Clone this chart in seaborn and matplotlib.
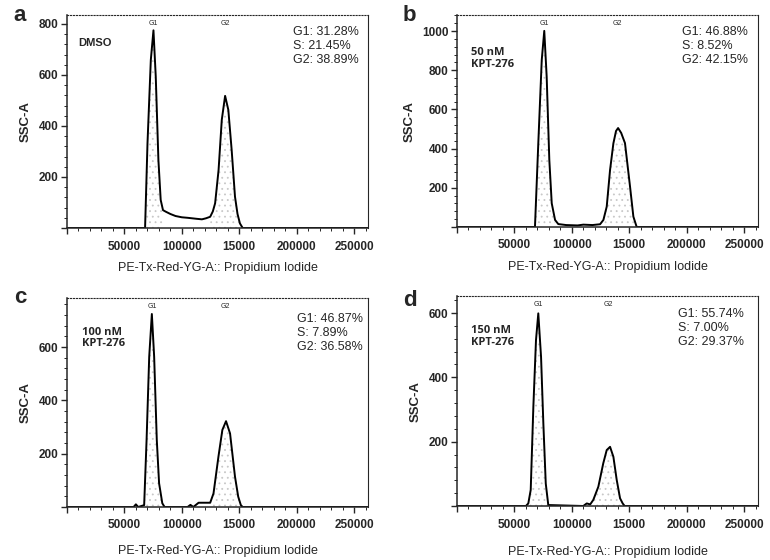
import numpy as np
import pandas as pd
import seaborn as sns
import matplotlib.pyplot as plt
from matplotlib.ticker import MultipleLocator, FixedLocator, FixedFormatter
import matplotlib.transforms as mtransforms

# values (PI intensity, count)
a_x = [0, 60000, 68000, 70100, 73000, 75300, 77300, 79600, 81600, 83600, 86000, 90000, 94500, 100000,
       105000, 109000, 113000, 117500, 121000, 124700, 127000, 129000, 132000, 134800, 137700, 140500,
       143400, 146300, 148500, 150600, 153000, 262144]
a_y = [0, 0, 0, 332, 659, 775, 593, 267, 110, 70, 64, 55, 47, 42, 40, 38, 36, 34, 38, 44, 65, 97, 227,
       424, 518, 463, 306, 123, 55, 18, 0, 0]

b_x = [0, 67900, 70800, 73800, 76000, 78100, 80400, 82500, 85400, 88200, 95000, 105000, 110000, 118000,
       124600, 127500, 130400, 133300, 136200, 138500, 140300, 143000, 146300, 150700, 153600, 156500, 262144]
b_y = [0, 0, 427, 852, 1001, 767, 342, 121, 36, 15, 10, 8, 12, 10, 14, 36, 104, 291, 427, 490, 505, 480,
       428, 206, 53, 0, 0]

c_x = [0, 58000, 60000, 62000, 67200, 69300, 71600, 73900, 75900, 78200, 80200, 83000, 85000, 105000,
       107500, 110000, 114600, 124700, 127600, 131900, 135300, 138500, 142000, 146300, 149100, 151400,
       153000, 262144]
c_y = [0, 0, 10, 0, 7, 251, 564, 724, 564, 251, 89, 14, 0, 0, 8, 0, 16, 16, 51, 189, 289, 322, 276, 114,
       39, 7, 0, 0]

d_x = [0, 60000, 62100, 64200, 66500, 68800, 70800, 73200, 75200, 77300, 79500, 110000, 113000, 116000,
       118700, 123100, 127400, 130400, 133300, 136200, 139100, 142000, 144300, 146000, 262144]
d_y = [0, 0, 8, 50, 309, 516, 599, 464, 257, 70, 3, 0, 8, 5, 19, 60, 133, 174, 184, 153, 81, 24, 8, 0, 0]

panel_letters = ['a', 'b', 'c', 'd']
treatments = ['DMSO', '50 nM\nKPT-276', '100 nM\nKPT-276', '150 nM\nKPT-276']
stats = ['G1: 31.28%\nS: 21.45%\nG2: 38.89%',
         'G1: 46.88%\nS: 8.52%\nG2: 42.15%',
         'G1: 46.87%\nS: 7.89%\nG2: 36.58%',
         'G1: 55.74%\nS: 7.00%\nG2: 29.37%']
g1_gates = [(68000, 83600), (67900, 86000), (67200, 83000), (62100, 79500)]
g2_gates = [(123000, 150600), (125000, 156500), (118000, 151400), (117000, 144300)]
g1_label_x = [75000, 75800, 74000, 70600]
g2_label_x = [138000, 140000, 138000, 131500]
y_max = [835, 1082, 784, 653]
y_major = [[0, 200, 400, 600, 800], [0, 200, 400, 600, 800, 1000], [0, 200, 400, 600], [0, 200, 400, 600]]
x_ticks = [0, 50000, 100000, 150000, 200000, 250000]
x_ticklabels = ['', '50000', '100000', '15000', '200000', '250000']

sns.set_style('ticks')
plt.rcParams['font.family'] = ['Liberation Sans', 'DejaVu Sans']
plt.rcParams['hatch.linewidth'] = 0.6

fig = plt.figure(figsize=(7.7, 5.6), dpi=100)
W = 301 / 770
boxes = [(67 / 770, 1 - 228 / 560, W, 213 / 560),
         (457 / 770, 1 - 227 / 560, W, 212 / 560),
         (67 / 770, 1 - 507 / 560, W, 209 / 560),
         (457 / 770, 1 - 506 / 560, W, 210 / 560)]
letter_pos = [(0.026, 0.973), (0.532, 0.973), (0.026, 0.468), (0.532, 0.463)]
treat_pos = [(0.037, 0.89), (0.047, 0.85), (0.049, 0.863), (0.047, 0.862)]
stats_pos = [(0.752, 0.948), (0.746, 0.948), (0.763, 0.928), (0.735, 0.943)]
xlabel_pad = [7, 7, 10, 11]

xs = [a_x, b_x, c_x, d_x]
ys = [a_y, b_y, c_y, d_y]

for i in range(4):
    ax = fig.add_axes(boxes[i])
    df = pd.DataFrame({'pi': xs[i], 'count': ys[i]})

    # stippled gate regions under the peaks
    for lo, hi in [g1_gates[i], g2_gates[i]]:
        part = df[(df['pi'] >= lo) & (df['pi'] <= hi)]
        ax.fill_between(part['pi'], 0, part['count'], facecolor='none', edgecolor='#c8c8c8',
                        hatch='...', linewidth=0)

    sns.lineplot(data=df, x='pi', y='count', sort=False, color='black', linewidth=1.4, ax=ax)

    ax.set_xlim(0, 262144)
    ax.set_ylim(0, y_max[i])
    ax.xaxis.set_major_locator(FixedLocator(x_ticks))
    ax.xaxis.set_major_formatter(FixedFormatter(x_ticklabels))
    ax.xaxis.set_minor_locator(MultipleLocator(10000))
    ax.yaxis.set_major_locator(FixedLocator(y_major[i]))
    ax.yaxis.set_major_formatter(FixedFormatter([''] + [str(v) for v in y_major[i][1:]]))
    ax.yaxis.set_minor_locator(MultipleLocator(40))
    ax.tick_params(which='major', length=4, width=1, labelsize=8.5)
    ax.tick_params(axis='x', which='major', pad=5)
    ax.tick_params(axis='y', which='major', pad=2)
    ax.tick_params(which='minor', length=2, width=0.7)
    for lab in ax.get_xticklabels() + ax.get_yticklabels():
        lab.set_fontweight('bold')

    ax.set_xlabel('PE-Tx-Red-YG-A:: Propidium Iodide', fontsize=9, labelpad=xlabel_pad[i])
    ax.set_ylabel('SSC-A', fontsize=9.5, fontweight='bold', labelpad=5)

    for side in ['left', 'bottom']:
        ax.spines[side].set_linewidth(1.1)
    ax.spines['top'].set_linestyle(':')
    ax.spines['top'].set_linewidth(0.8)
    ax.spines['right'].set_linewidth(0.8)

    trans = mtransforms.blended_transform_factory(ax.transData, ax.transAxes)
    ax.text(g1_label_x[i], 0.975, 'G1', transform=trans, fontsize=5, ha='center', va='top')
    ax.text(g2_label_x[i], 0.975, 'G2', transform=trans, fontsize=5, ha='center', va='top')

    if i == 0:
        ax.text(*treat_pos[i], treatments[i], transform=ax.transAxes, fontsize=8, fontweight='bold',
                ha='left', va='top')
    else:
        ax.text(*treat_pos[i], treatments[i], transform=ax.transAxes, fontsize=8, fontweight='bold',
                family=['Open Sans', 'DejaVu Sans'], ha='left', va='top', linespacing=1.1)
    ax.text(*stats_pos[i], stats[i], transform=ax.transAxes, fontsize=9, ha='left', va='top',
            linespacing=1.2)

    fig.text(*letter_pos[i], panel_letters[i], fontsize=16, fontweight='bold', ha='center', va='center')

fig.savefig('out.png', dpi=100)
